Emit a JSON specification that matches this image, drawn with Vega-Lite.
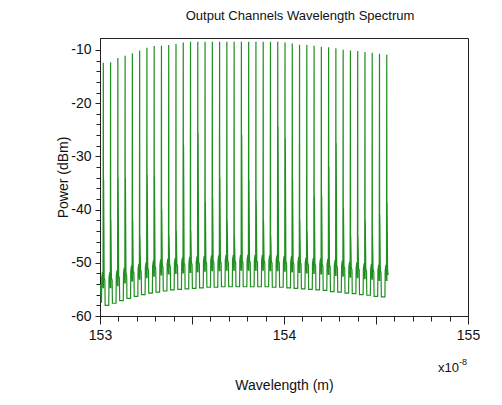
{
"$schema": "https://vega.github.io/schema/vega-lite/v6.json",
"width": 368, "height": 278,
"autosize": "none",
"padding": {"left": 100, "top": 38, "right": 34, "bottom": 89},
"background": "white",
"config": {"font": "Liberation Sans", "view": {"stroke": "#222", "strokeWidth": 1}},
"title": {"text": "Output Channels Wavelength Spectrum", "fontSize": 13, "fontWeight": "normal", "color": "#111", "offset": 15, "dx": 16},
"datasets": {"spec": [
{"w":153.001,"p":-54},
{"w":153.008,"p":-57.5},{"w":153.0095,"p":-52.8},{"w":153.0135,"p":-51.8},{"w":153.0165,"p":-54.8},{"w":153.018,"p":-12.4},{"w":153.0188,"p":-54.8},{"w":153.0196,"p":-34.4},{"w":153.0225,"p":-52.8},{"w":153.0265,"p":-53.3},{"w":153.028,"p":-58},
{"w":153.0475,"p":-58},{"w":153.049,"p":-52.8},{"w":153.053,"p":-51.8},{"w":153.056,"p":-54.8},{"w":153.0575,"p":-12.3},{"w":153.0583,"p":-54.8},{"w":153.0591,"p":-42},{"w":153.062,"p":-52.8},{"w":153.066,"p":-53.3},{"w":153.0675,"p":-57.6},
{"w":153.087,"p":-57.6},{"w":153.0885,"p":-52.4},{"w":153.0925,"p":-51.4},{"w":153.0955,"p":-54.4},{"w":153.097,"p":-11.5},{"w":153.0978,"p":-54.4},{"w":153.0986,"p":-34},{"w":153.1015,"p":-52.4},{"w":153.1055,"p":-52.9},{"w":153.107,"p":-57.1},
{"w":153.1265,"p":-57.1},{"w":153.128,"p":-51.9},{"w":153.132,"p":-50.9},{"w":153.135,"p":-53.9},{"w":153.1365,"p":-11.1},{"w":153.1373,"p":-53.9},{"w":153.1381,"p":-34},{"w":153.141,"p":-51.9},{"w":153.145,"p":-52.4},{"w":153.1465,"p":-56.7},
{"w":153.166,"p":-56.7},{"w":153.1675,"p":-51.5},{"w":153.1715,"p":-50.5},{"w":153.1745,"p":-53.5},{"w":153.176,"p":-10.6},{"w":153.1768,"p":-53.5},{"w":153.1776,"p":-41.8},{"w":153.1805,"p":-51.5},{"w":153.1845,"p":-52},{"w":153.186,"p":-56.3},
{"w":153.2055,"p":-56.3},{"w":153.207,"p":-51.2},{"w":153.211,"p":-50.2},{"w":153.214,"p":-53.2},{"w":153.2155,"p":-10.1},{"w":153.2163,"p":-53.2},{"w":153.2171,"p":-45},{"w":153.22,"p":-51.2},{"w":153.224,"p":-51.7},{"w":153.2255,"p":-56},
{"w":153.245,"p":-56},{"w":153.2465,"p":-50.9},{"w":153.2505,"p":-49.9},{"w":153.2535,"p":-52.9},{"w":153.255,"p":-9.6},{"w":153.2558,"p":-52.9},{"w":153.2566,"p":-33.5},{"w":153.2595,"p":-50.9},{"w":153.2635,"p":-51.4},{"w":153.265,"p":-55.7},
{"w":153.2845,"p":-55.7},{"w":153.286,"p":-50.6},{"w":153.29,"p":-49.6},{"w":153.293,"p":-52.6},{"w":153.2945,"p":-9.25},{"w":153.2953,"p":-52.6},{"w":153.2961,"p":-33.8},{"w":153.299,"p":-50.6},{"w":153.303,"p":-51.1},{"w":153.3045,"p":-55.5},
{"w":153.324,"p":-55.5},{"w":153.3255,"p":-50.4},{"w":153.3295,"p":-49.4},{"w":153.3325,"p":-52.4},{"w":153.334,"p":-9.2},{"w":153.3348,"p":-52.4},{"w":153.3356,"p":-40},{"w":153.3385,"p":-50.4},{"w":153.3425,"p":-50.9},{"w":153.344,"p":-55.3},
{"w":153.3635,"p":-55.3},{"w":153.365,"p":-50.2},{"w":153.369,"p":-49.2},{"w":153.372,"p":-52.2},{"w":153.3735,"p":-9.05},{"w":153.3743,"p":-52.2},{"w":153.3751,"p":-45},{"w":153.378,"p":-50.2},{"w":153.382,"p":-50.7},{"w":153.3835,"p":-55.1},
{"w":153.403,"p":-55.1},{"w":153.4045,"p":-50.1},{"w":153.4085,"p":-49.1},{"w":153.4115,"p":-52.1},{"w":153.413,"p":-8.9},{"w":153.4138,"p":-52.1},{"w":153.4146,"p":-44},{"w":153.4175,"p":-50.1},{"w":153.4215,"p":-50.6},{"w":153.423,"p":-55},
{"w":153.4425,"p":-55},{"w":153.444,"p":-50},{"w":153.448,"p":-49},{"w":153.451,"p":-52},{"w":153.4525,"p":-8.6},{"w":153.4533,"p":-52},{"w":153.4541,"p":-27.9},{"w":153.457,"p":-50},{"w":153.461,"p":-50.5},{"w":153.4625,"p":-54.9},
{"w":153.482,"p":-54.9},{"w":153.4835,"p":-49.9},{"w":153.4875,"p":-48.9},{"w":153.4905,"p":-51.9},{"w":153.492,"p":-8.45},{"w":153.4928,"p":-51.9},{"w":153.4936,"p":-44},{"w":153.4965,"p":-49.9},{"w":153.5005,"p":-50.4},{"w":153.502,"p":-54.8},
{"w":153.5215,"p":-54.8},{"w":153.523,"p":-49.8},{"w":153.527,"p":-48.8},{"w":153.53,"p":-51.8},{"w":153.5315,"p":-8.45},{"w":153.5323,"p":-51.8},{"w":153.5331,"p":-25.6},{"w":153.536,"p":-49.8},{"w":153.54,"p":-50.3},{"w":153.5415,"p":-54.7},
{"w":153.561,"p":-54.7},{"w":153.5625,"p":-49.7},{"w":153.5665,"p":-48.7},{"w":153.5695,"p":-51.7},{"w":153.571,"p":-8.45},{"w":153.5718,"p":-51.7},{"w":153.5726,"p":-38.6},{"w":153.5755,"p":-49.7},{"w":153.5795,"p":-50.2},{"w":153.581,"p":-54.6},
{"w":153.6005,"p":-54.6},{"w":153.602,"p":-49.6},{"w":153.606,"p":-48.6},{"w":153.609,"p":-51.6},{"w":153.6105,"p":-8.45},{"w":153.6113,"p":-51.6},{"w":153.6121,"p":-37.6},{"w":153.615,"p":-49.6},{"w":153.619,"p":-50.1},{"w":153.6205,"p":-54.6},
{"w":153.64,"p":-54.6},{"w":153.6415,"p":-49.6},{"w":153.6455,"p":-48.6},{"w":153.6485,"p":-51.6},{"w":153.65,"p":-8.45},{"w":153.6508,"p":-51.6},{"w":153.6516,"p":-34},{"w":153.6545,"p":-49.6},{"w":153.6585,"p":-50.1},{"w":153.66,"p":-54.5},
{"w":153.6795,"p":-54.5},{"w":153.681,"p":-49.5},{"w":153.685,"p":-48.5},{"w":153.688,"p":-51.5},{"w":153.6895,"p":-8.45},{"w":153.6903,"p":-51.5},{"w":153.6911,"p":-42},{"w":153.694,"p":-49.5},{"w":153.698,"p":-50},{"w":153.6995,"p":-54.5},
{"w":153.719,"p":-54.5},{"w":153.7205,"p":-49.5},{"w":153.7245,"p":-48.5},{"w":153.7275,"p":-51.5},{"w":153.729,"p":-8.45},{"w":153.7298,"p":-51.5},{"w":153.7306,"p":-45},{"w":153.7335,"p":-49.5},{"w":153.7375,"p":-50},{"w":153.739,"p":-54.5},
{"w":153.7585,"p":-54.5},{"w":153.76,"p":-49.5},{"w":153.764,"p":-48.5},{"w":153.767,"p":-51.5},{"w":153.7685,"p":-8.45},{"w":153.7693,"p":-51.5},{"w":153.7701,"p":-26},{"w":153.773,"p":-49.5},{"w":153.777,"p":-50},{"w":153.7785,"p":-54.5},
{"w":153.798,"p":-54.5},{"w":153.7995,"p":-49.5},{"w":153.8035,"p":-48.5},{"w":153.8065,"p":-51.5},{"w":153.808,"p":-8.45},{"w":153.8088,"p":-51.5},{"w":153.8096,"p":-34.4},{"w":153.8125,"p":-49.5},{"w":153.8165,"p":-50},{"w":153.818,"p":-54.5},
{"w":153.8375,"p":-54.5},{"w":153.839,"p":-49.5},{"w":153.843,"p":-48.5},{"w":153.846,"p":-51.5},{"w":153.8475,"p":-8.45},{"w":153.8483,"p":-51.5},{"w":153.8491,"p":-38.3},{"w":153.852,"p":-49.5},{"w":153.856,"p":-50},{"w":153.8575,"p":-54.5},
{"w":153.877,"p":-54.5},{"w":153.8785,"p":-49.5},{"w":153.8825,"p":-48.5},{"w":153.8855,"p":-51.5},{"w":153.887,"p":-8.45},{"w":153.8878,"p":-51.5},{"w":153.8886,"p":-42},{"w":153.8915,"p":-49.5},{"w":153.8955,"p":-50},{"w":153.897,"p":-54.5},
{"w":153.9165,"p":-54.5},{"w":153.918,"p":-49.6},{"w":153.922,"p":-48.6},{"w":153.925,"p":-51.6},{"w":153.9265,"p":-8.45},{"w":153.9273,"p":-51.6},{"w":153.9281,"p":-45},{"w":153.931,"p":-49.6},{"w":153.935,"p":-50.1},{"w":153.9365,"p":-54.6},
{"w":153.956,"p":-54.6},{"w":153.9575,"p":-49.6},{"w":153.9615,"p":-48.6},{"w":153.9645,"p":-51.6},{"w":153.966,"p":-8.45},{"w":153.9668,"p":-51.6},{"w":153.9676,"p":-24.4},{"w":153.9705,"p":-49.6},{"w":153.9745,"p":-50.1},{"w":153.976,"p":-54.6},
{"w":153.9955,"p":-54.6},{"w":153.997,"p":-49.7},{"w":154.001,"p":-48.7},{"w":154.004,"p":-51.7},{"w":154.0055,"p":-8.6},{"w":154.0063,"p":-51.7},{"w":154.0071,"p":-26.6},{"w":154.01,"p":-49.7},{"w":154.014,"p":-50.2},{"w":154.0155,"p":-54.7},
{"w":154.035,"p":-54.7},{"w":154.0365,"p":-49.8},{"w":154.0405,"p":-48.8},{"w":154.0435,"p":-51.8},{"w":154.045,"p":-8.8},{"w":154.0458,"p":-51.8},{"w":154.0466,"p":-34.4},{"w":154.0495,"p":-49.8},{"w":154.0535,"p":-50.3},{"w":154.055,"p":-54.8},
{"w":154.0745,"p":-54.8},{"w":154.076,"p":-49.9},{"w":154.08,"p":-48.9},{"w":154.083,"p":-51.9},{"w":154.0845,"p":-9},{"w":154.0853,"p":-51.9},{"w":154.0861,"p":-42},{"w":154.089,"p":-49.9},{"w":154.093,"p":-50.4},{"w":154.0945,"p":-54.9},
{"w":154.114,"p":-54.9},{"w":154.1155,"p":-50},{"w":154.1195,"p":-49},{"w":154.1225,"p":-52},{"w":154.124,"p":-9.05},{"w":154.1248,"p":-52},{"w":154.1256,"p":-44},{"w":154.1285,"p":-50},{"w":154.1325,"p":-50.5},{"w":154.134,"p":-55},
{"w":154.1535,"p":-55},{"w":154.155,"p":-50.1},{"w":154.159,"p":-49.1},{"w":154.162,"p":-52.1},{"w":154.1635,"p":-9.2},{"w":154.1643,"p":-52.1},{"w":154.1651,"p":-37.6},{"w":154.168,"p":-50.1},{"w":154.172,"p":-50.6},{"w":154.1735,"p":-55.1},
{"w":154.193,"p":-55.1},{"w":154.1945,"p":-50.2},{"w":154.1985,"p":-49.2},{"w":154.2015,"p":-52.2},{"w":154.203,"p":-9.4},{"w":154.2038,"p":-52.2},{"w":154.2046,"p":-37.3},{"w":154.2075,"p":-50.2},{"w":154.2115,"p":-50.7},{"w":154.213,"p":-55.2},
{"w":154.2325,"p":-55.2},{"w":154.234,"p":-50.3},{"w":154.238,"p":-49.3},{"w":154.241,"p":-52.3},{"w":154.2425,"p":-9.5},{"w":154.2433,"p":-52.3},{"w":154.2441,"p":-31.9},{"w":154.247,"p":-50.3},{"w":154.251,"p":-50.8},{"w":154.2525,"p":-55.4},
{"w":154.272,"p":-55.4},{"w":154.2735,"p":-50.5},{"w":154.2775,"p":-49.5},{"w":154.2805,"p":-52.5},{"w":154.282,"p":-9.7},{"w":154.2828,"p":-52.5},{"w":154.2836,"p":-27.5},{"w":154.2865,"p":-50.5},{"w":154.2905,"p":-51},{"w":154.292,"p":-55.5},
{"w":154.3115,"p":-55.5},{"w":154.313,"p":-50.6},{"w":154.317,"p":-49.6},{"w":154.32,"p":-52.6},{"w":154.3215,"p":-9.95},{"w":154.3223,"p":-52.6},{"w":154.3231,"p":-39.7},{"w":154.326,"p":-50.6},{"w":154.33,"p":-51.1},{"w":154.3315,"p":-55.7},
{"w":154.351,"p":-55.7},{"w":154.3525,"p":-50.8},{"w":154.3565,"p":-49.8},{"w":154.3595,"p":-52.8},{"w":154.361,"p":-10.1},{"w":154.3618,"p":-52.8},{"w":154.3626,"p":-45},{"w":154.3655,"p":-50.8},{"w":154.3695,"p":-51.3},{"w":154.371,"p":-55.8},
{"w":154.3905,"p":-55.8},{"w":154.392,"p":-50.9},{"w":154.396,"p":-49.9},{"w":154.399,"p":-52.9},{"w":154.4005,"p":-10.2},{"w":154.4013,"p":-52.9},{"w":154.4021,"p":-45},{"w":154.405,"p":-50.9},{"w":154.409,"p":-51.4},{"w":154.4105,"p":-56},
{"w":154.43,"p":-56},{"w":154.4315,"p":-51.1},{"w":154.4355,"p":-50.1},{"w":154.4385,"p":-53.1},{"w":154.44,"p":-10.4},{"w":154.4408,"p":-53.1},{"w":154.4416,"p":-42},{"w":154.4445,"p":-51.1},{"w":154.4485,"p":-51.6},{"w":154.45,"p":-56.1},
{"w":154.4695,"p":-56.1},{"w":154.471,"p":-51.2},{"w":154.475,"p":-50.2},{"w":154.478,"p":-53.2},{"w":154.4795,"p":-10.5},{"w":154.4803,"p":-53.2},{"w":154.4811,"p":-45},{"w":154.484,"p":-51.2},{"w":154.488,"p":-51.7},{"w":154.4895,"p":-56.3},
{"w":154.509,"p":-56.3},{"w":154.5105,"p":-51.4},{"w":154.5145,"p":-50.4},{"w":154.5175,"p":-53.4},{"w":154.519,"p":-10.7},{"w":154.5198,"p":-53.4},{"w":154.5206,"p":-41},{"w":154.5235,"p":-51.4},{"w":154.5275,"p":-51.9},{"w":154.529,"p":-56.4},
{"w":154.5485,"p":-56.4},{"w":154.55,"p":-51.4},{"w":154.554,"p":-50.4},{"w":154.557,"p":-53.4},{"w":154.5585,"p":-10.9},{"w":154.5593,"p":-53.4},{"w":154.5601,"p":-38.7},{"w":154.563,"p":-51.4},{"w":154.566,"p":-52.3}
]},
"layer": [
{
"data": {"name": "spec"},
"mark": {"type": "line", "color": "#1f8f1f", "strokeWidth": 1.2, "clip": true},
"encoding": {
"x": {"field": "w", "type": "quantitative",
 "scale": {"domain": [153, 155], "nice": false, "zero": false},
 "axis": {"orient": "bottom", "values": [153, 153.5, 154, 154.5, 155], "labelExpr": "datum.value % 1 == 0 ? '' + datum.value : ''", "grid": false, "tickSize": 8, "tickColor": "#222", "domainColor": "#222", "labelFontSize": 14, "labelColor": "#111", "labelPadding": 4, "labelFlush": false, "title": "Wavelength (m)", "titleFontSize": 14, "titleFontWeight": "normal", "titleColor": "#111", "titlePadding": 36}},
"y": {"field": "p", "type": "quantitative",
 "scale": {"domain": [-60, -7.75], "nice": false, "zero": false},
 "axis": {"orient": "left", "values": [-60, -50, -40, -30, -20, -10], "labelExpr": "'' + datum.value", "grid": false, "tickSize": 5, "tickColor": "#222", "domainColor": "#222", "labelFontSize": 14, "labelColor": "#111", "labelPadding": 4, "labelFlush": false, "title": "Power (dBm)", "titleFontSize": 14, "titleFontWeight": "normal", "titleColor": "#111", "titlePadding": 0}}
}
},
{
"data": {"values": [{"w": 153, "p": -60}]},
"mark": {"type": "point", "opacity": 0},
"encoding": {
"x": {"field": "w", "type": "quantitative", "axis": {"orient": "bottom", "values": [153.1, 153.2, 153.3, 153.4, 153.6, 153.7, 153.8, 153.9, 154.1, 154.2, 154.3, 154.4, 154.6, 154.7, 154.8, 154.9], "labels": false, "domain": false, "grid": false, "tickSize": 5, "tickColor": "#222", "title": null}},
"y": {"field": "p", "type": "quantitative", "axis": {"orient": "left", "values": [-58, -56, -54, -52, -48, -46, -44, -42, -38, -36, -34, -32, -28, -26, -24, -22, -18, -16, -14, -12], "labels": false, "domain": false, "grid": false, "tickSize": 4, "tickColor": "#222", "title": null}}
}
},
{
"data": {"values": [{"t": "x10"}]},
"mark": {"type": "text", "align": "right", "baseline": "alphabetic", "fontSize": 13, "color": "#111", "dx": -9, "dy": 56},
"encoding": {
"x": {"datum": 155, "type": "quantitative", "axis": null},
"y": {"datum": -60, "type": "quantitative", "axis": null},
"text": {"field": "t"}
}
},
{
"data": {"values": [{"t": "-8"}]},
"mark": {"type": "text", "align": "right", "baseline": "alphabetic", "fontSize": 9, "color": "#111", "dx": -1, "dy": 49},
"encoding": {
"x": {"datum": 155, "type": "quantitative", "axis": null},
"y": {"datum": -60, "type": "quantitative", "axis": null},
"text": {"field": "t"}
}
}
],
"resolve": {"axis": {"x": "independent", "y": "independent"}}
}
